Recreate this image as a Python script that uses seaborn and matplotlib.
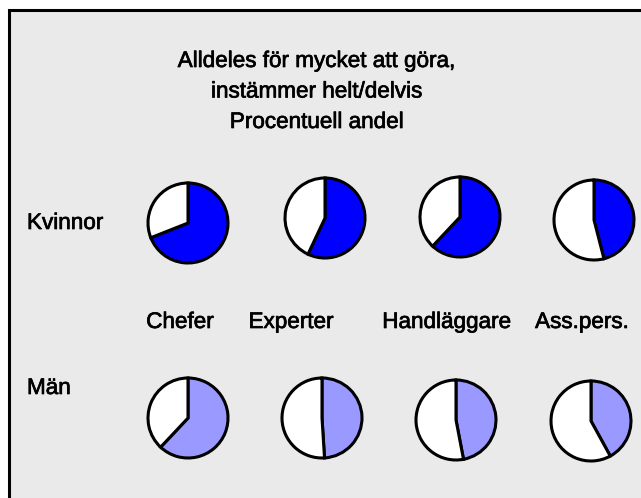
import matplotlib
matplotlib.use("Agg")
import matplotlib.pyplot as plt
import matplotlib.patheffects as pe
from matplotlib.patches import Rectangle
import seaborn as sns

# ---- data ----
title_lines = ["Alldeles för mycket att göra,", "instämmer helt/delvis", "Procentuell andel"]
categories = ["Chefer", "Experter", "Handläggare", "Ass.pers."]
groups = ["Kvinnor", "Män"]
kvinnor = [69, 57, 62, 46]
man = [62, 49, 47, 42]
group_values = [kvinnor, man]
group_colors = ["#0000FF", "#9999FF"]

# ---- layout (pixels) ----
W, H = 641, 498
pie_x = [[188, 325, 460, 594], [188, 322, 456, 591]]
pie_y = [[223, 218, 217, 220], [418, 418, 420, 421]]
radius = 40
label_x = [180, 291, 447, 582]
label_y = 328
group_y = [229, 394]
title_y = [67, 97.5, 128]

sns.set_theme(style="white")
plt.rcParams["font.family"] = ["Liberation Sans", "DejaVu Sans"]

fig = plt.figure(figsize=(W / 100, H / 100), dpi=100)
fig.patch.set_facecolor("white")
ax = fig.add_axes([0, 0, 1, 1])

frame = Rectangle((9, 9.5), 800, 700, facecolor="#EAEAEA", edgecolor="black",
                  linewidth=2.2, zorder=0)
ax.add_patch(frame)

for gi, vals in enumerate(group_values):
    for ci, v in enumerate(vals):
        ax.pie([v, 100 - v], colors=[group_colors[gi], "white"],
               center=(pie_x[gi][ci], pie_y[gi][ci]), radius=radius,
               startangle=-90, counterclock=True, frame=True,
               wedgeprops=dict(edgecolor="black", linewidth=2.2))

fs = 16.2
heavy = [pe.withStroke(linewidth=0.5, foreground="black")]
for t, y in zip(title_lines, title_y):
    ax.text(317, y, t, ha="center", va="baseline", fontsize=fs, color="black",
            path_effects=heavy)
for g, y in zip(groups, group_y):
    ax.text(27, y, g, ha="left", va="baseline", fontsize=fs, color="black",
            path_effects=heavy)
for c, x in zip(categories, label_x):
    ax.text(x, label_y, c, ha="center", va="baseline", fontsize=fs, color="black",
            path_effects=heavy)

ax.set_aspect("auto")
ax.set_xlim(0, W)
ax.set_ylim(H, 0)
ax.axis("off")

fig.savefig("out.png", dpi=100, facecolor="white")
